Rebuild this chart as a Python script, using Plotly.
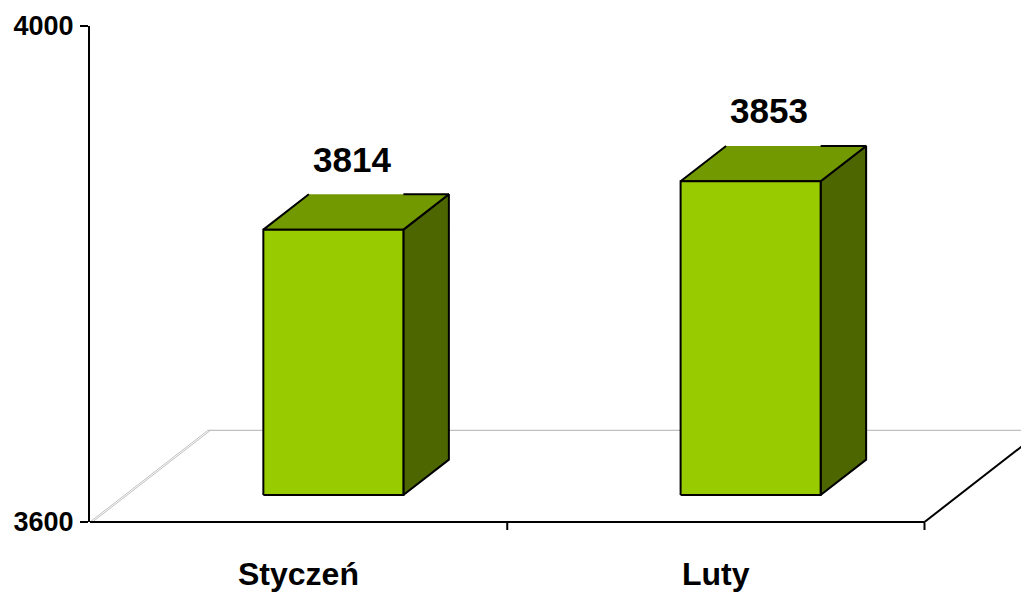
import plotly.graph_objects as go

# ---- data ----
categories = ["Styczeń", "Luty"]
values = [3814, 3853]
y_ticks = [3600, 4000]

# ---- 3D geometry (in data units) ----
Y0, Y1 = 3600, 4000
DX = 0.2828     # floor depth in x (category units)
DY = 73.95      # floor depth in y (value units)
F0 = 0.2944     # bar front plane depth fraction
F1 = 0.68       # bar back plane depth fraction
HALF_W = 0.1678 # half width of bar front face

FONT = "Liberation Sans, Arial, sans-serif"
FRONT = "#99CC00"
TOP = "#739900"
SIDE = "#4D6600"

fig = go.Figure()

def line(xs, ys, color, width):
    fig.add_trace(go.Scatter(x=xs, y=ys, mode="lines",
                             line=dict(color=color, width=width),
                             hoverinfo="skip", showlegend=False))

def poly(xs, ys, fill, lw=2, lc="black"):
    fig.add_trace(go.Scatter(x=xs + [xs[0]], y=ys + [ys[0]], mode="lines",
                             fill="toself", fillcolor=fill,
                             line=dict(color=lc, width=lw),
                             hoverinfo="skip", showlegend=False))

n = len(categories)
x_left, x_right = -0.5, n - 0.5

# floor (gray back/left edges, black right edge)
line([x_left, x_left + DX], [Y0, Y0 + DY], "#c0c0c0", 1)
line([x_left + 0.006, x_left + DX + 0.006], [Y0, Y0 + DY], "#c0c0c0", 1)
line([x_left + DX, x_right + DX + 1], [Y0 + DY, Y0 + DY], "#c0c0c0", 1.2)
line([x_right, x_right + DX], [Y0, Y0 + DY], "black", 2)

# bars
for i, v in enumerate(values):
    fx0 = i + F0 * DX - HALF_W
    fx1 = i + F0 * DX + HALF_W
    fyb = Y0 + F0 * DY
    fyt = v + F0 * DY
    ddx = (F1 - F0) * DX
    ddy = (F1 - F0) * DY
    # side face
    poly([fx1, fx1 + ddx, fx1 + ddx, fx1], [fyt, fyt + ddy, fyb + ddy, fyb], SIDE)
    # top face (fill only)
    poly([fx0, fx1, fx1 + ddx, fx0 + ddx], [fyt, fyt, fyt + ddy, fyt + ddy], TOP, lw=0, lc=TOP)
    line([fx0 + ddx, fx0, fx1, fx1 + ddx, fx1], [fyt + ddy, fyt, fyt, fyt + ddy, fyt + ddy], "black", 2)
    # front face
    poly([fx0, fx1, fx1, fx0], [fyb, fyb, fyt, fyt], FRONT)
    # value label
    fig.add_annotation(x=i + F0 * DX + ddx / 2 - 0.01, y=fyt + ddy, text=str(v),
                       showarrow=False, yanchor="middle", yshift=35,
                       font=dict(family=FONT, size=35, color="black", weight="bold"))

# category labels
for i, c in enumerate(categories):
    fig.add_annotation(x=i, y=0, xref="x", yref="paper", text=c, showarrow=False,
                       yanchor="middle", yshift=-52,
                       font=dict(family=FONT, size=32, color="black", weight="bold"))

# x axis line and ticks
PLOT_H = 496
shapes = [dict(type="line", xref="x", yref="paper", x0=x_left, x1=x_right, y0=0, y1=0,
               line=dict(color="black", width=2))]
for k in range(1, n + 1):
    shapes.append(dict(type="line", xref="x", yref="paper", x0=k - 0.5, x1=k - 0.5,
                       y0=0, y1=-8 / PLOT_H, line=dict(color="black", width=2)))
fig.update_layout(shapes=shapes)

plot_w = 939
unit_px = 417.25
fig.update_layout(
    width=1029, height=594,
    margin=dict(l=82, r=8, t=18, b=80),
    paper_bgcolor="white", plot_bgcolor="white",
    showlegend=False,
    xaxis=dict(range=[x_left, x_left + plot_w / unit_px], visible=False, fixedrange=True,
               automargin=False),
    yaxis=dict(range=[Y0, Y1], tickvals=y_ticks, ticktext=[str(t) for t in y_ticks],
               showgrid=False, zeroline=False, showline=True, linecolor="black", linewidth=2,
               ticks="outside", ticklen=8, tickwidth=2, tickcolor="black",
               ticklabelstandoff=1, automargin=False,
               tickfont=dict(family=FONT, size=27, color="black", weight="bold"),
               fixedrange=True),
)

fig.write_html("out.html")
